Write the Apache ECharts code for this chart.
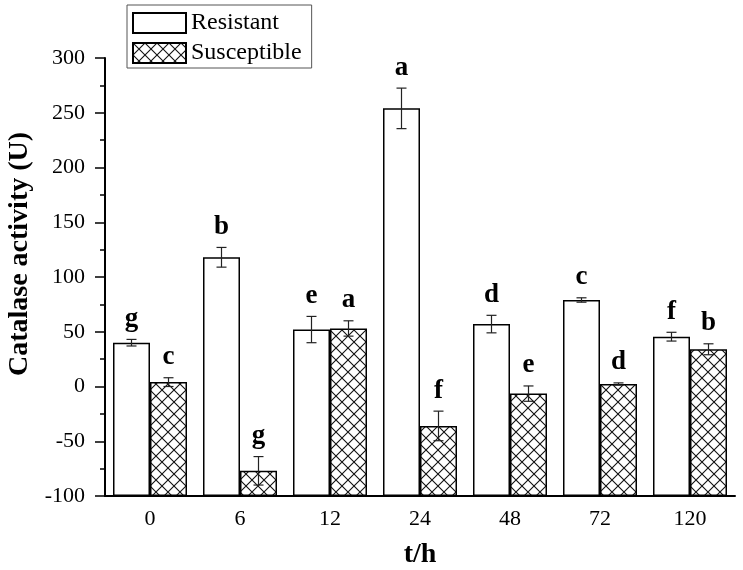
<!DOCTYPE html>
<html><head><meta charset="utf-8">
<script src="https://cdn.jsdelivr.net/npm/echarts@6/dist/echarts.min.js"></script>
<style>html,body{margin:0;padding:0;background:#fff}#c{width:743px;height:570px}</style>
</head><body><div id="c"></div>
<script>
const categories = ['0', '6', '12', '24', '48', '72', '120'];
const resistant = [40, 118, 52, 254, 57, 79, 45.5];
const resistantErr = [3, 9, 12, 18.5, 8, 2, 4];
const resistantLetters = ['g', 'b', 'e', 'a', 'd', 'c', 'f'];
const susceptible = [4, -77, 53, -36, -6.5, 2.3, 34];
const susceptibleErr = [4, 13, 7, 13.5, 7, 1, 5];
const susceptibleLetters = ['c', 'g', 'a', 'f', 'e', 'd', 'b'];
const yMin = -100, yMax = 300, yStep = 50;

const FONT = '"Liberation Serif", "Times New Roman", serif';
const BW = 37;

function hatch() {
  const s = 12;
  const c = document.createElement('canvas');
  c.width = s; c.height = s;
  const g = c.getContext('2d');
  g.fillStyle = '#fff'; g.fillRect(0, 0, s, s);
  g.strokeStyle = '#111'; g.lineWidth = 1.1;
  g.beginPath();
  g.moveTo(-1, -1); g.lineTo(s + 1, s + 1);
  g.moveTo(s + 1, -1); g.lineTo(-1, s + 1);
  g.stroke();
  return c;
}
const hatchPattern = { image: hatch(), repeat: 'repeat' };

function errSeries(vals, errs, letters, side) {
  return {
    type: 'custom', coordinateSystem: 'cartesian2d', silent: true, z: 5,
    data: vals.map((v, i) => [i, v]),
    encode: { x: 0, y: 1 },
    renderItem(params, api) {
      const i = api.value(0), v = api.value(1), e = errs[params.dataIndex];
      const x = api.coord([i, v])[0] + side * BW / 2;
      const top = api.coord([i, v + e])[1];
      const bot = api.coord([i, v - e])[1];
      const cap = 5;
      const ls = { stroke: '#222', lineWidth: 1.2 };
      return {
        type: 'group', children: [
          { type: 'line', shape: { x1: x, y1: top, x2: x, y2: bot }, style: ls },
          { type: 'line', shape: { x1: x - cap, y1: top, x2: x + cap, y2: top }, style: ls },
          { type: 'line', shape: { x1: x - cap, y1: bot, x2: x + cap, y2: bot }, style: ls },
          { type: 'text', style: { text: letters[params.dataIndex], x: x, y: top - 20.5, align: 'center', verticalAlign: 'middle', font: 'bold 27px ' + FONT, fill: '#000' } }
        ]
      };
    }
  };
}

const chart = echarts.init(document.getElementById('c'), null, { renderer: 'canvas' });
chart.setOption({
  animation: false,
  backgroundColor: '#fff',
  grid: { left: 105, right: 8, top: 58, bottom: 74, containLabel: false, outerBoundsMode: 'none' },
  legend: {
    orient: 'vertical', left: 127, top: 5,
    data: ['Resistant', 'Susceptible'],
    icon: 'rect', itemWidth: 53, itemHeight: 20, itemGap: 6,
    padding: [6, 10, 3, 5],
    borderColor: '#555', borderWidth: 1,
    textStyle: { fontFamily: FONT, fontSize: 24, color: '#000' }
  },
  xAxis: {
    type: 'category', data: categories,
    name: 't/h', nameLocation: 'middle', nameGap: 45,
    nameTextStyle: { fontFamily: FONT, fontWeight: 'bold', fontSize: 28, color: '#000' },
    axisLine: { onZero: false, lineStyle: { color: '#000', width: 2 } },
    axisTick: { inside: true, length: 6, lineStyle: { color: '#000', width: 1.5 } },
    axisLabel: { fontFamily: FONT, fontSize: 22, color: '#000', margin: 12 },
    splitLine: { show: false }
  },
  yAxis: {
    type: 'value', min: yMin, max: yMax, interval: yStep,
    axisLine: { show: true, lineStyle: { color: '#000', width: 2 } },
    axisTick: { show: true, length: 10, lineStyle: { color: '#000', width: 1.5 } },
    minorTick: { show: true, splitNumber: 2, length: 5, lineStyle: { color: '#000', width: 1.5 } },
    splitLine: { show: false },
    axisLabel: { fontFamily: FONT, fontSize: 22, color: '#000', margin: 20 }
  },
  graphic: [{
    type: 'text', x: 20, y: 254, rotation: Math.PI / 2,
    style: { text: 'Catalase activity (U)', font: 'bold 28px ' + FONT, fill: '#000', align: 'center', verticalAlign: 'middle' }
  }],
  series: [
    { type: 'bar', name: 'baseR', stack: 'r', stackStrategy: 'all', barWidth: BW, barGap: '0%', silent: true,
      data: categories.map(() => yMin), itemStyle: { color: 'rgba(0,0,0,0)', borderWidth: 0 } },
    { type: 'bar', name: 'Resistant', stack: 'r', stackStrategy: 'all', barWidth: BW, barGap: '0%',
      data: resistant.map(v => v - yMin), itemStyle: { color: '#fff', borderColor: '#000', borderWidth: 1.5 } },
    { type: 'bar', name: 'baseS', stack: 's', stackStrategy: 'all', barWidth: BW, barGap: '0%', silent: true,
      data: categories.map(() => yMin), itemStyle: { color: 'rgba(0,0,0,0)', borderWidth: 0 } },
    { type: 'bar', name: 'Susceptible', stack: 's', stackStrategy: 'all', barWidth: BW, barGap: '0%',
      data: susceptible.map(v => v - yMin), itemStyle: { color: hatchPattern, borderColor: '#000', borderWidth: 1.5 } },
    errSeries(resistant, resistantErr, resistantLetters, -1),
    errSeries(susceptible, susceptibleErr, susceptibleLetters, 1)
  ]
});
</script>
</body></html>
